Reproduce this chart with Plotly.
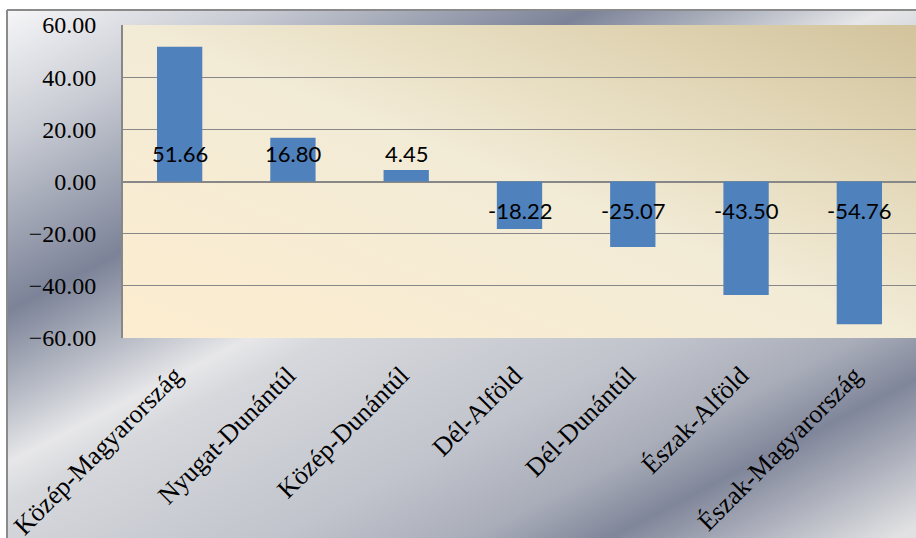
import base64
import plotly.graph_objects as go

regions = ["Közép-Magyarország", "Nyugat-Dunántúl", "Közép-Dunántúl", "Dél-Alföld",
           "Dél-Dunántúl", "Észak-Alföld", "Észak-Magyarország"]
values = [51.66, 16.80, 4.45, -18.22, -25.07, -43.50, -54.76]
y_ticks = [-60, -40, -20, 0, 20, 40, 60]

W, H = 916, 538
ML, MR, MT, MB = 123, 0, 25, 200
PW, PH = W - ML - MR, H - MT - MB
FRAME_X, FRAME_Y = 8, 10


def svg_uri(svg):
    return "data:image/svg+xml;base64," + base64.b64encode(svg.encode("utf-8")).decode("ascii")


# metallic outer background (gradient along direction (0.46, 0.89) in page pixels)
fw, fh = W - FRAME_X, H - FRAME_Y
metal_stops = [(0.017, "#f5f5f7"), (0.14, "#c9ccd4"), (0.31, "#7c8398"), (0.40, "#b9bdc7"),
               (0.46, "#e7e7e9"), (0.50, "#d6d8dc"), (0.67, "#c1c4cc"), (0.77, "#a9adb9"),
               (0.84, "#80869a"), (0.985, "#e1e1e3")]
stops_svg = "".join(f'<stop offset="{o}" stop-color="{c}"/>' for o, c in metal_stops)
metal_svg = (
    f'<svg xmlns="http://www.w3.org/2000/svg" width="{fw}" height="{fh}" viewBox="0 0 {fw} {fh}" preserveAspectRatio="none">'
    f'<defs><linearGradient id="g" gradientUnits="userSpaceOnUse" x1="{-FRAME_X}" y1="{-FRAME_Y}" '
    f'x2="{-FRAME_X + 414}" y2="{-FRAME_Y + 801}">{stops_svg}</linearGradient></defs>'
    f'<rect x="0" y="0" width="{fw}" height="{fh}" fill="url(#g)"/></svg>'
)

beige_svg = (
    f'<svg xmlns="http://www.w3.org/2000/svg" width="{PW}" height="{PH}" viewBox="0 0 {PW} {PH}" preserveAspectRatio="none">'
    '<defs><linearGradient id="b" x1="0" y1="1" x2="1" y2="0">'
    '<stop offset="0" stop-color="#fdedd0"/><stop offset="0.5" stop-color="#f2ebd6"/>'
    '<stop offset="0.75" stop-color="#e3d8b9"/><stop offset="1" stop-color="#d2c39c"/>'
    '</linearGradient></defs>'
    f'<rect x="0" y="0" width="{PW}" height="{PH}" fill="url(#b)"/></svg>'
)

fig = go.Figure()
fig.add_trace(go.Bar(x=regions, y=values, marker=dict(color="#4f81bd", line=dict(width=0)),
                     hoverinfo="skip"))

for r, v in zip(regions, values):
    fig.add_annotation(x=r, y=0, text=f"{v:.2f}", showarrow=False, xanchor="center",
                       yanchor="middle", yshift=28 if v >= 0 else -29,
                       font=dict(family="Lato", size=22, color="#000000"))

fig.add_layout_image(dict(source=svg_uri(metal_svg), xref="paper", yref="paper",
                          x=(FRAME_X - ML) / PW, y=(MT + PH - FRAME_Y) / PH,
                          sizex=fw / PW, sizey=fh / PH, sizing="stretch",
                          xanchor="left", yanchor="top", layer="below"))
fig.add_layout_image(dict(source=svg_uri(beige_svg), xref="paper", yref="paper",
                          x=0, y=1, sizex=1, sizey=1, sizing="stretch",
                          xanchor="left", yanchor="top", layer="below"))

# frame border (left and top edges)
fx0 = (FRAME_X - 1 - ML) / PW
fy0 = (MT + PH - FRAME_Y) / PH
fig.add_shape(type="line", xref="paper", yref="paper", x0=fx0, x1=fx0, y0=fy0, y1=-MB / PH - 0.1,
              line=dict(color="#8a8a8a", width=2))
fig.add_shape(type="line", xref="paper", yref="paper", x0=fx0, x1=1.05, y0=fy0, y1=fy0,
              line=dict(color="#8a8a8a", width=2))

fig.update_layout(
    width=W, height=H,
    margin=dict(l=ML, r=MR, t=MT, b=MB, pad=0),
    paper_bgcolor="#ffffff",
    plot_bgcolor="rgba(0,0,0,0)",
    bargap=0.6,
    showlegend=False,
    xaxis=dict(
        type="category", tickangle=-45, showgrid=False, showline=False, ticks="",
        tickfont=dict(family="Liberation Serif", size=26, color="#000000"),
        ticklabelstandoff=16, ticklabelshift=-5,
        automargin=False, fixedrange=True, zeroline=False,
    ),
    yaxis=dict(
        range=[-60, 60], tickvals=y_ticks, tickformat=".2f",
        showgrid=True, gridcolor="#878787", gridwidth=1.3,
        zeroline=True, zerolinecolor="#878787", zerolinewidth=2.2,
        showline=True, linecolor="#878787", linewidth=2, ticks="",
        ticklabelstandoff=20,
        tickfont=dict(family="Liberation Serif", size=24, color="#000000"),
        automargin=False, fixedrange=True,
    ),
)

fig.write_html(
    "out.html",
    config={"displayModeBar": False},
    post_script="document.body.style.margin='0';document.body.style.overflow='hidden';"
                "document.documentElement.style.overflow='hidden';",
)
